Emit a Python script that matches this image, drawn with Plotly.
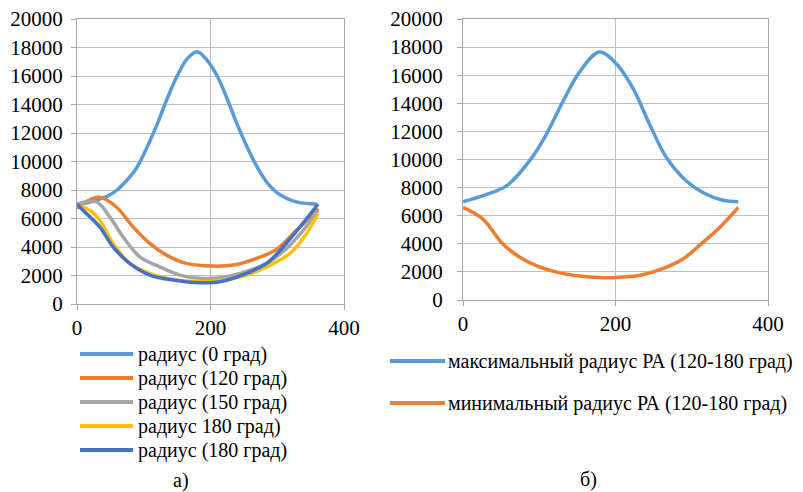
import plotly.graph_objects as go

# ---- data ----
ang = [0, 15, 30, 45, 60, 75, 90, 105, 120, 135, 150, 165, 180, 195, 210, 225, 240, 255, 270, 285, 300, 315, 330, 345, 360]

r0 = [7000, 7100, 7300, 7550, 8000, 8700, 9600, 11000, 12600, 14400, 16000, 17200, 17700, 17100, 16000, 14400, 12600, 11000, 9600, 8500, 7800, 7400, 7150, 7050, 7000]

x120 = [0, 15, 34, 59, 84, 109, 134, 164, 204, 234, 269, 299, 324, 344, 361]
r120 = [6700, 7200, 7500, 6810, 5410, 4250, 3430, 2850, 2660, 2730, 3200, 3830, 4950, 5880, 6700]

x150 = [0, 29, 49, 69, 94, 124, 154, 184, 214, 244, 284, 314, 339, 361]
r150 = [7000, 7160, 6110, 4710, 3310, 2610, 2030, 1800, 1840, 2150, 2850, 3900, 5180, 6580]

x180a = [0, 19, 34, 54, 79, 109, 144, 184, 214, 254, 284, 319, 344, 361]
r180a = [6900, 6580, 5880, 4250, 2850, 2150, 1730, 1560, 1610, 2030, 2610, 3550, 4950, 6350]

x180b = [0, 14, 34, 54, 79, 109, 144, 184, 214, 254, 284, 309, 334, 361]
r180b = [7000, 6350, 5410, 4010, 2850, 2030, 1680, 1490, 1560, 2150, 2850, 4010, 5410, 7000]

xmax = [0, 30, 57, 87, 109, 131, 153, 179, 201, 223, 245, 267, 293, 319, 341, 361]
rmax = [6990, 7500, 8120, 9880, 11760, 14120, 16240, 17650, 16820, 15060, 12470, 10120, 8470, 7530, 7100, 6990]

xmin = [0, 26, 52, 74, 100, 136, 179, 201, 232, 262, 289, 315, 337, 361]
rmin = [6590, 5760, 4000, 3060, 2350, 1835, 1600, 1600, 1760, 2235, 2940, 4120, 5180, 6590]

names_left = ["радиус (0 град)", "радиус (120 град)", "радиус (150 град)", "радиус 180 град)", "радиус (180 град)"]
names_right = ["максимальный радиус РА (120-180 град)", "минимальный радиус РА (120-180 град)"]
captions = ["а)", "б)"]

xticks = [0, 200, 400]
yticks = list(range(0, 20001, 2000))
yticktext = [str(v) for v in yticks]

C_BLUE, C_ORANGE, C_GRAY, C_YELLOW, C_DBLUE = "#5B9BD5", "#ED7D31", "#A5A5A5", "#FFC000", "#4472C4"
colors_left = [C_BLUE, C_ORANGE, C_GRAY, C_YELLOW, C_DBLUE]
colors_right = [C_BLUE, C_ORANGE]
FONT = "Liberation Serif, Times New Roman, serif"

# figure size (page body has an 8px margin inside the 803x492 window)
W, H, OFF = 795, 484, 8
def px(sx):
    return (sx - OFF) / W
def py(sy):
    return 1 - (sy - OFF) / H

fig = go.Figure()
left = [(ang, r0), (x120, r120), (x150, r150), (x180a, r180a), (x180b, r180b)]
for (xs, ys), c, nm in zip(left, colors_left, names_left):
    fig.add_trace(go.Scatter(x=xs, y=ys, mode="lines", name=nm, showlegend=False,
                             line=dict(color=c, width=3.5, shape="spline", smoothing=1.0),
                             xaxis="x", yaxis="y"))
right = [(xmax, rmax), (xmin, rmin)]
for (xs, ys), c, nm in zip(right, colors_right, names_right):
    fig.add_trace(go.Scatter(x=xs, y=ys, mode="lines", name=nm, showlegend=False,
                             line=dict(color=c, width=3.5, shape="spline", smoothing=1.0),
                             xaxis="x2", yaxis="y2"))

ax_common = dict(showgrid=True, gridcolor="#BFBFBF", gridwidth=1, showline=True, linecolor="#A6A6A6", linewidth=1,
                 mirror=True, ticks="outside", ticklen=5, tickcolor="#A6A6A6", zeroline=False, automargin=False,
                 ticklabeloverflow="allow",
                 tickfont=dict(family=FONT, size=21, color="black"))

# ---- legends drawn as line samples + text ----
shapes, annotations = [], []
def add_legend(names, colors, x0, x1, xt, y0, dy):
    for i, (nm, c) in enumerate(zip(names, colors)):
        yy = py(y0 + i * dy)
        shapes.append(dict(type="line", xref="paper", yref="paper", x0=px(x0), x1=px(x1), y0=yy, y1=yy,
                           line=dict(color=c, width=4)))
        annotations.append(dict(text=nm, x=px(xt), y=yy, xref="paper", yref="paper", xanchor="left",
                                yanchor="middle", showarrow=False, font=dict(family=FONT, size=20, color="black")))

add_legend(names_left, colors_left, 80, 133, 136, 354, 24)
add_legend(names_right, colors_right, 390, 445, 446, 361, 42)

for cap, (cx, cy) in zip(captions, [(181, 480), (588, 479)]):
    annotations.append(dict(text=cap, x=px(cx), y=py(cy), xref="paper", yref="paper", showarrow=False,
                            xanchor="center", yanchor="middle",
                            font=dict(family=FONT, size=20, color="black")))

fig.update_layout(
    width=W, height=H, margin=dict(l=0, r=0, t=0, b=0),
    paper_bgcolor="white", plot_bgcolor="white",
    font=dict(family=FONT, color="black"),
    xaxis=dict(domain=[px(77), px(344)], range=[0, 400], tickvals=xticks, anchor="y", **ax_common),
    yaxis=dict(domain=[py(304), py(19)], range=[0, 20000], tickvals=yticks, ticktext=yticktext, anchor="x",
               ticklabelstandoff=4, **ax_common),
    xaxis2=dict(domain=[px(463), px(768)], range=[0, 400], tickvals=xticks, anchor="y2", **ax_common),
    yaxis2=dict(domain=[py(300), py(19)], range=[0, 20000], tickvals=yticks, ticktext=yticktext, anchor="x2",
                ticklabelstandoff=10, **ax_common),
    showlegend=False,
    shapes=shapes,
    annotations=annotations,
)

fig.write_html("out.html")
